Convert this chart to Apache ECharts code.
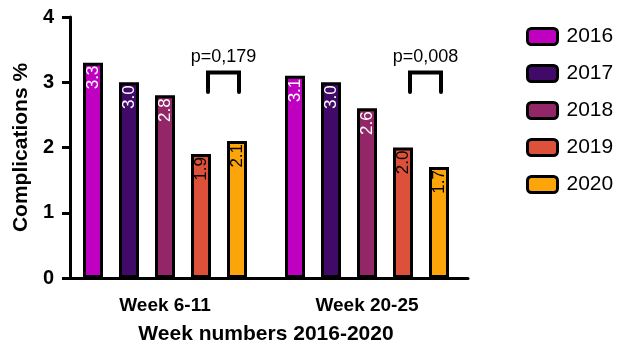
<!DOCTYPE html>
<html>
<head>
<meta charset="utf-8">
<script src="https://cdn.jsdelivr.net/npm/echarts@6/dist/echarts.min.js"></script>
<style>
html,body{margin:0;padding:0;background:#fff;}
#main{width:622px;height:346px;}
</style>
</head>
<body>
<div id="main"></div>
<script>
var categories = ['Week 6-11', 'Week 20-25'];
var years = ['2016', '2017', '2018', '2019', '2020'];
var v2016 = [3.3, 3.1];
var v2017 = [3.0, 3.0];
var v2018 = [2.8, 2.6];
var v2019 = [1.9, 2.0];
var v2020 = [2.1, 1.7];
var pLabels = ['p=0,179', 'p=0,008'];
var bracketTop = [3.15, 3.15];
var bracketBottom = [2.85, 2.85];

var colors = ['#c000c0', '#420a68', '#932667', '#dd513a', '#fca50a'];
var labelColors = ['#fff', '#fff', '#fff', '#000', '#000'];
var FONT = 'Liberation Sans, Arial, sans-serif';

var myChart = echarts.init(document.getElementById('main'));

function barSeries(i, data){
	return {
		name: years[i],
		type: 'bar',
		data: data,
		barWidth: 20,
		barGap: '80%',
		itemStyle: {
			color: colors[i],
			borderColor: '#000',
			borderWidth: 3
		},
		label: {
			show: true,
			position: 'insideTop',
			rotate: 90,
			align: 'right',
			verticalAlign: 'middle',
			distance: 3,
			color: labelColors[i],
			fontFamily: FONT,
			fontSize: 17,
			formatter: function(p){ return p.value.toFixed(1); }
		}
	};
}

var bracketData = [];
for (var k = 0; k < categories.length; k++) {
	bracketData.push([k, bracketTop[k], bracketBottom[k], pLabels[k]]);
}

myChart.setOption({
	animation: false,
	textStyle: {fontFamily: FONT},
	grid: {left: 64, right: 154, top: 17, bottom: 68, outerBoundsMode: 'none', containLabel: false},
	legend: {
		data: years,
		orient: 'vertical',
		left: 521,
		top: 21,
		itemWidth: 30,
		itemHeight: 16,
		itemGap: 16,
		textStyle: {fontSize: 21, color: '#000', fontFamily: FONT, padding: [0, 0, 0, 4]},
		itemStyle: {borderColor: '#000', borderWidth: 3}
	},
	xAxis: {
		type: 'category',
		data: categories,
		name: 'Week numbers 2016-2020',
		nameLocation: 'middle',
		nameGap: 46,
		nameTextStyle: {fontSize: 21, fontWeight: 'bold', color: '#000'},
		axisLine: {lineStyle: {color: '#000', width: 3}},
		axisTick: {alignWithLabel: true, length: 9, lineStyle: {color: '#000', width: 2}},
		axisLabel: {fontSize: 19, fontWeight: 'bold', color: '#000', margin: 18}
	},
	yAxis: {
		type: 'value',
		min: 0,
		max: 4,
		interval: 1,
		offset: -6,
		name: 'Complications %',
		nameLocation: 'middle',
		nameGap: 33,
		nameTextStyle: {fontSize: 21, fontWeight: 'bold', color: '#000'},
		splitLine: {show: false},
		axisLine: {show: true, lineStyle: {color: '#000', width: 3}},
		axisTick: {show: true, length: 8, lineStyle: {color: '#000', width: 3}},
		axisLabel: {fontSize: 20, fontWeight: 'bold', color: '#000', margin: 16}
	},
	series: [
		barSeries(0, v2016),
		barSeries(1, v2017),
		barSeries(2, v2018),
		barSeries(3, v2019),
		barSeries(4, v2020),
		{
			type: 'custom',
			name: 'p',
			data: bracketData,
			silent: true,
			z: 5,
			renderItem: function(params, api){
				var top = api.coord([api.value(0), api.value(1)]);
				var bot = api.coord([api.value(0), api.value(2)]);
				var x1 = top[0] + 43, x2 = top[0] + 74;
				return {
					type: 'group',
					children: [{
						type: 'polyline',
						shape: {points: [[x1, bot[1]], [x1, top[1]], [x2, top[1]], [x2, bot[1]]]},
						style: {stroke: '#000', lineWidth: 4, fill: null, lineCap: 'round', lineJoin: 'miter'}
					}, {
						type: 'text',
						style: {
							text: pLabels[params.dataIndex],
							x: (x1 + x2) / 2,
							y: top[1] - 6,
							align: 'center',
							verticalAlign: 'bottom',
							fontSize: 18,
							fontFamily: FONT,
							fill: '#000'
						}
					}]
				};
			}
		}
	]
});
</script>
</body>
</html>
